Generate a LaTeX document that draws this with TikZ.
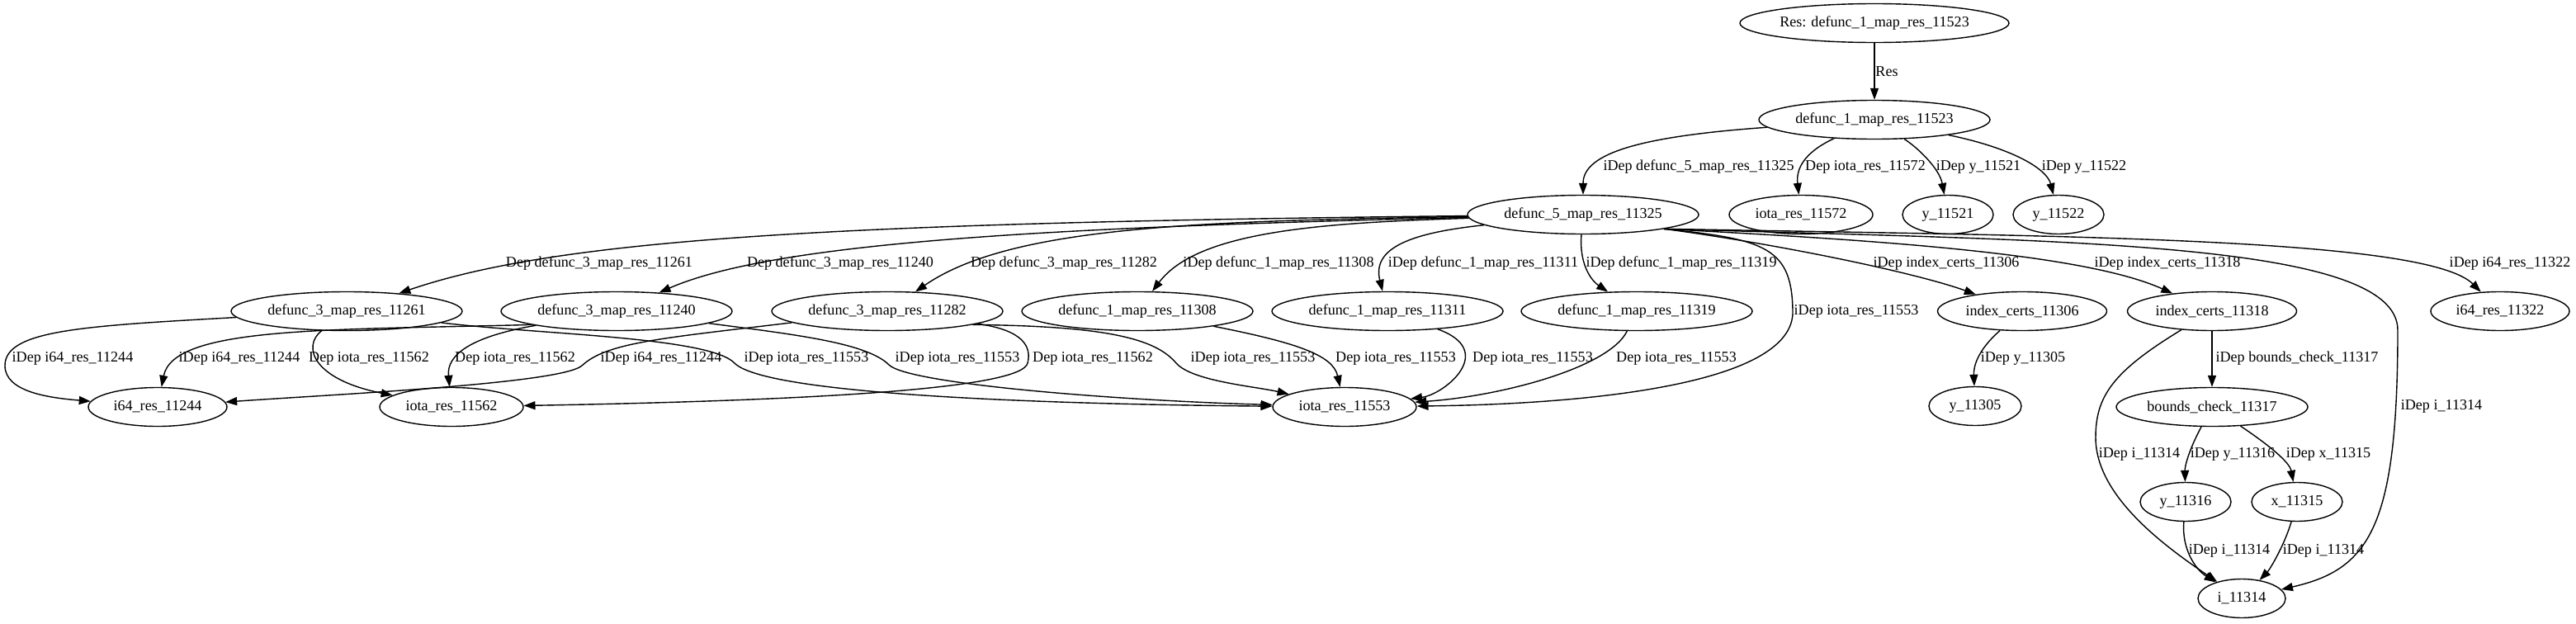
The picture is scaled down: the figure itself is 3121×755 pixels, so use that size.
\documentclass[tikz,border=0pt]{standalone}
\usepackage{fontspec}
\setmainfont{Liberation Serif}
\usepackage{tikz}
\usetikzlibrary{shapes.geometric,arrows.meta}

\begin{document}
\begin{tikzpicture}
[
  x = 1pt, y = -1pt,
  font = \fontsize{18.1}{21}\selectfont,
  base/.style  = {shape=ellipse, draw, line width=1.4pt, inner sep=0pt,
                  minimum height=47pt},
  func/.style  = {base, minimum width=280pt},
  plain/.style = {base, minimum width=#1},
  dep/.style   = {draw, line width=1.4pt, -{Triangle[length=14pt,width=10pt]}},
  lbl/.style   = {inner sep=0pt}
]
\useasboundingbox (0,0) rectangle (3121,755);

\node [plain=326pt] (n11523r) at (2271,28)  {Res: defunc\_1\_map\_res\_11523};
\node [func]        (n11523)  at (2271,145) {defunc\_1\_map\_res\_11523};
\node [func]        (n11325)  at (1918,260) {defunc\_5\_map\_res\_11325};
\node [plain=174pt] (n11572)  at (2182,260) {iota\_res\_11572};
\node [plain=110pt] (n11521)  at (2360,260) {y\_11521};
\node [plain=110pt] (n11522)  at (2494,260) {y\_11522};
\node [func]        (n11261)  at (420,377)  {defunc\_3\_map\_res\_11261};
\node [func]        (n11240)  at (747,377)  {defunc\_3\_map\_res\_11240};
\node [func]        (n11282)  at (1075,377) {defunc\_3\_map\_res\_11282};
\node [func]        (n11308)  at (1378,377) {defunc\_1\_map\_res\_11308};
\node [func]        (n11311)  at (1681,377) {defunc\_1\_map\_res\_11311};
\node [func]        (n11319)  at (1983,377) {defunc\_1\_map\_res\_11319};
\node [plain=205pt] (n11306)  at (2450,377) {index\_certs\_11306};
\node [plain=205pt] (n11318)  at (2680,377) {index\_certs\_11318};
\node [plain=168pt] (n11322)  at (3029,377) {i64\_res\_11322};
\node [plain=168pt] (n11244)  at (191,493)  {i64\_res\_11244};
\node [plain=174pt] (n11562)  at (547,493)  {iota\_res\_11562};
\node [plain=174pt] (n11553)  at (1629,493) {iota\_res\_11553};
\node [plain=112pt] (n11305)  at (2393,492) {y\_11305};
\node [plain=232pt] (n11317)  at (2680,493) {bounds\_check\_11317};
\node [plain=110pt] (n11316)  at (2648,608) {y\_11316};
\node [plain=110pt] (n11315)  at (2783,608) {x\_11315};
\node [plain=106pt] (n11314)  at (2716,725) {i\_11314};

\draw [dep] (n11523r) -- (n11523) node [lbl] at (2286,87) {Res};
\draw [dep] (n11523) .. controls (1990,165) and (1918,185) .. (n11325)
  node [lbl] at (2058,202) {iDep defunc\_5\_map\_res\_11325};
\draw [dep] (n11523) .. controls (2185,185) and (2176,205) .. (n11572)
  node [lbl] at (2260,202) {Dep iota\_res\_11572};
\draw [dep] (n11523) .. controls (2325,180) and (2350,205) .. (n11521)
  node [lbl] at (2397,202) {iDep y\_11521};
\draw [dep] (n11523) .. controls (2440,180) and (2480,205) .. (n11522)
  node [lbl] at (2525,202) {iDep y\_11522};

\draw [dep] (n11325) .. controls (1000,270) and (675,290) .. (n11261)
  node [lbl] at (726,319) {Dep defunc\_3\_map\_res\_11261};
\draw [dep] (n11325) .. controls (1300,275) and (944,291) .. (n11240)
  node [lbl] at (1018,319) {Dep defunc\_3\_map\_res\_11240};
\draw [dep] (n11325) .. controls (1450,268) and (1224,274) .. (n11282)
  node [lbl] at (1289,319) {Dep defunc\_3\_map\_res\_11282};
\draw [dep] (n11325) .. controls (1600,270) and (1451,280) .. (n11308)
  node [lbl] at (1549,319) {iDep defunc\_1\_map\_res\_11308};
\draw [dep] (n11325) .. controls (1710,282) and (1662,300) .. (n11311)
  node [lbl] at (1797,319) {iDep defunc\_1\_map\_res\_11311};
\draw [dep] (n11325) .. controls (1913,320) and (1928,340) .. (n11319)
  node [lbl] at (2037,319) {iDep defunc\_1\_map\_res\_11319};
\draw [dep] (n11325.-10) .. controls (2140,290) and (2172,300) .. (2172,380)
  .. controls (2168,470) and (1900,490) .. (n11553)
  node [lbl] at (2249,377) {iDep iota\_res\_11553};
\draw [dep] (n11325.-10) .. controls (2150,295) and (2320,330) .. (n11306)
  node [lbl] at (2358,319) {iDep index\_certs\_11306};
\draw [dep] (n11325.-10) .. controls (2250,290) and (2520,305) .. (n11318)
  node [lbl] at (2626,319) {iDep index\_certs\_11318};
\draw [dep] (n11325.-10) .. controls (2500,292) and (2905,292) .. (2905,400)
  .. controls (2905,640) and (2870,690) .. (n11314)
  node [lbl] at (2958,492) {iDep i\_11314};
\draw [dep] (n11325.-10) .. controls (2500,286) and (2940,288) .. (n11322)
  node [lbl] at (3041,319) {iDep i64\_res\_11322};

\draw [dep] (n11261) .. controls (100,395) and (6,400) .. (6,443)
  .. controls (6,475) and (60,482) .. (n11244)
  node [lbl] at (88,434) {iDep i64\_res\_11244};
\draw [dep] (n11261) .. controls (365,420) and (380,460) .. (n11562)
  node [lbl] at (447,434) {Dep iota\_res\_11562};
\draw [dep] (n11261) .. controls (650,405) and (860,408) .. (890,440)
  .. controls (930,480) and (1300,490) .. (n11553)
  node [lbl] at (977,434) {iDep iota\_res\_11553};

\draw [dep] (n11240.189) .. controls (400,400) and (210,395) .. (n11244)
  node [lbl] at (290,434) {iDep i64\_res\_11244};
\draw [dep] (n11240.190) .. controls (570,408) and (541,430) .. (n11562)
  node [lbl] at (624,434) {Dep iota\_res\_11562};
\draw [dep] (n11240) .. controls (960,405) and (1050,415) .. (1077,442)
  .. controls (1100,465) and (1350,485) .. (n11553)
  node [lbl] at (1160,434) {iDep iota\_res\_11553};

\draw [dep] (n11282) .. controls (800,410) and (735,415) .. (705,443)
  .. controls (680,465) and (400,478) .. (n11244)
  node [lbl] at (801,434) {iDep i64\_res\_11244};
\draw [dep] (n11282) .. controls (1240,400) and (1250,420) .. (1245,440)
  .. controls (1238,470) and (1000,485) .. (n11562)
  node [lbl] at (1324,434) {Dep iota\_res\_11562};
\draw [dep] (n11282.-9) .. controls (1340,395) and (1400,410) .. (1425,440)
  .. controls (1445,462) and (1520,468) .. (n11553)
  node [lbl] at (1518,434) {iDep iota\_res\_11553};

\draw [dep] (n11308) .. controls (1570,415) and (1615,430) .. (n11553)
  node [lbl] at (1691,434) {Dep iota\_res\_11553};
\draw [dep] (n11311) .. controls (1815,425) and (1750,478) .. (n11553)
  node [lbl] at (1857,434) {Dep iota\_res\_11553};
\draw [dep] (n11319) .. controls (1950,445) and (1820,480) .. (n11553)
  node [lbl] at (2031,434) {Dep iota\_res\_11553};

\draw [dep] (n11306) .. controls (2395,425) and (2391,445) .. (n11305)
  node [lbl] at (2451,434) {iDep y\_11305};
\draw [dep] (n11318) -- (n11317)
  node [lbl] at (2783,434) {iDep bounds\_check\_11317};
\draw [dep] (n11318) .. controls (2560,450) and (2539,480) .. (2539,530)
  .. controls (2539,600) and (2620,660) .. (n11314)
  node [lbl] at (2592,550) {iDep i\_11314};
\draw [dep] (n11317) .. controls (2652,545) and (2647,565) .. (n11316)
  node [lbl] at (2705,550) {iDep y\_11316};
\draw [dep] (n11317) .. controls (2750,540) and (2774,560) .. (n11315)
  node [lbl] at (2821,550) {iDep x\_11315};
\draw [dep] (n11316) .. controls (2643,665) and (2660,690) .. (n11314)
  node [lbl] at (2701,667) {iDep i\_11314};
\draw [dep] (n11315) .. controls (2768,660) and (2750,690) .. (n11314)
  node [lbl] at (2815,667) {iDep i\_11314};
\end{tikzpicture}
\end{document}
